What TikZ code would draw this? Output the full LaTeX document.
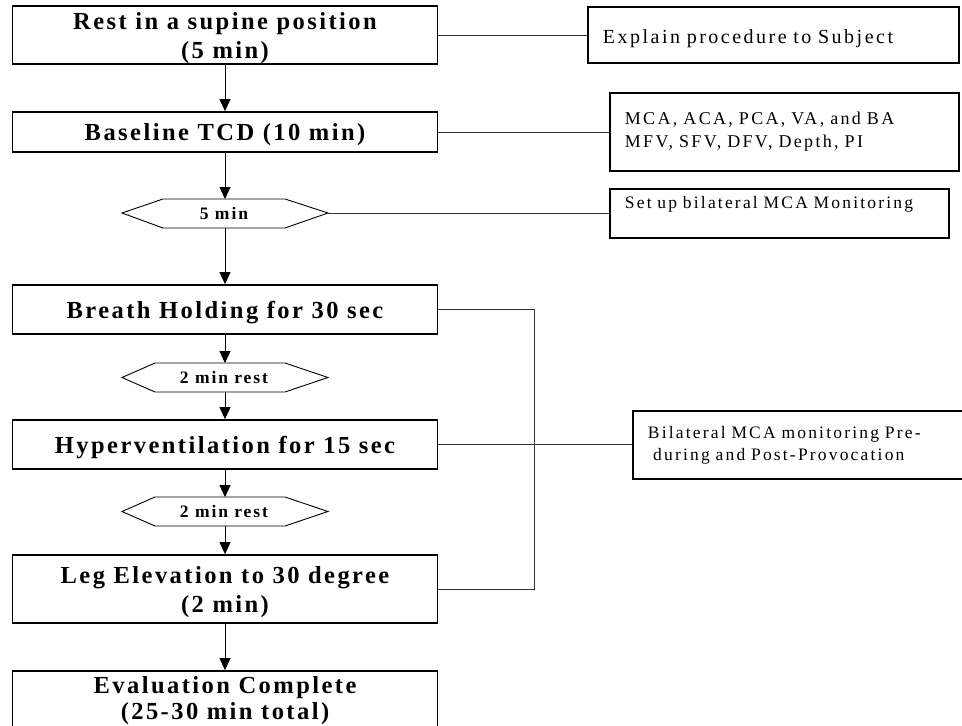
\documentclass[tikz,border=0pt]{standalone}
\usepackage{fontspec}
\setmainfont{Liberation Serif}
\newfontfamily\bxfont[LetterSpace=10]{Liberation Serif}
\newfontfamily\hxfont[LetterSpace=11]{Liberation Serif}
\newfontfamily\ntfont[LetterSpace=12.5]{Liberation Serif}
\newfontfamily\ntfontb[LetterSpace=13]{Liberation Serif}
\newfontfamily\ntfontc[LetterSpace=12.5]{Liberation Serif}
\usetikzlibrary{arrows.meta}
\tikzset{
  stepbox/.style={draw=black, line width=1.8pt, minimum width=425pt, inner sep=0pt,
    align=center, text depth=0pt, font=\bxfont\bfseries\fontsize{24.5}{29}\selectfont},
  notebox/.style={draw=black, line width=1.8pt, inner xsep=15pt, inner ysep=0pt,
    align=left, anchor=west},
  hexlabel/.style={inner sep=0pt, text depth=0pt, font=\hxfont\bfseries\fontsize{17.5}{20}\selectfont},
  hexline/.style={draw=black, line width=0.9pt},
  flow/.style={line width=1pt, -{Triangle[length=12pt,width=11pt]}},
  link/.style={draw=black!80, line width=1pt},
}
\begin{document}
\begin{tikzpicture}[x=1pt,y=-1pt]
\useasboundingbox (0,0) rectangle (962,726);
\clip (0,0) rectangle (962,726);

% left column
\node[stepbox, minimum height=58pt] (b1) at (225,35) {Rest in a supine position\\(5 min)};
\node[stepbox, minimum height=40pt] (b2) at (225,132) {Baseline TCD (10 min)};
\node[stepbox, minimum height=49pt] (b3) at (225,309.5) {Breath Holding for 30 sec};
\node[stepbox, minimum height=49pt] (b4) at (225,444.5) {Hyperventilation for 15 sec};
\node[stepbox, minimum height=68pt] (b5) at (225,589) {Leg Elevation to 30 degree\\(2 min)};
\node[stepbox, minimum height=68pt, text depth=14pt, font=\bxfont\bfseries\fontsize{24.5}{26}\selectfont] (b6) at (225,705) {Evaluation Complete\\(25-30 min total)};

% hexagons
\draw[hexline] (122,213) -- (163,199) -- (285,199) -- (328,213) -- (285,228) -- (163,228) -- cycle;
\node[hexlabel] (h1) at (224,213) {5 min};
\coordinate (h1n) at (225,199);
\coordinate (h1s) at (225,228);
\coordinate (h1e) at (328,213);

\draw[hexline] (122,377.5) -- (155,363) -- (285,363) -- (328,377.5) -- (285,392) -- (155,392) -- cycle;
\node[hexlabel] (h2) at (224,377.5) {2 min rest};
\coordinate (h2n) at (225,363);
\coordinate (h2s) at (225,392);

\draw[hexline] (122,511.5) -- (155,497) -- (285,497) -- (328,511.5) -- (285,526) -- (155,526) -- cycle;
\node[hexlabel] (h3) at (224,511.5) {2 min rest};
\coordinate (h3n) at (225,497);
\coordinate (h3s) at (225,526);

% right column notes
\node[notebox, text width=341pt, minimum height=56pt, text height=20pt, text depth=4pt,
  font=\ntfont\fontsize{20}{23}\selectfont] (r1) at (587,35) {Explain procedure to Subject};
\node[notebox, text width=319pt, minimum height=78pt,
  font=\ntfontb\fontsize{18}{23}\selectfont] (r2) at (609,132) {MCA, ACA, PCA, VA, and BA\\MFV, SFV, DFV, Depth, PI};
\node[notebox, text width=309pt, minimum height=49pt,
  font=\ntfontc\fontsize{17.5}{23}\selectfont] (r3) at (609,213.5) {Set up bilateral MCA Monitoring\\~};
\node[notebox, text width=310pt, minimum height=68pt,
  font=\ntfontc\fontsize{17.5}{22}\selectfont] (r4) at (632,445) {Bilateral MCA monitoring Pre-\\\hspace*{0.3em}during and Post-Provocation};

% flow arrows
\draw[flow] (b1.south) -- (b2.north);
\draw[flow] (b2.south) -- (h1n);
\draw[flow] (h1s) -- (b3.north);
\draw[flow] (b3.south) -- (h2n);
\draw[flow] (h2s) -- (b4.north);
\draw[flow] (b4.south) -- (h3n);
\draw[flow] (h3s) -- (b5.north);
\draw[flow] (b5.south) -- (b6.north);

% side links
\coordinate (j2) at (534,589);
\draw[link] (b1.east) -- (r1.west);
\draw[link] (b2.east) -- (r2.west);
\draw[link] (h1e) -- (h1e -| r3.west);
\draw[link] (b3.east) -| (j2) -- (b5.east);
\draw[link] (b4.east) -- (b4.east -| r4.west);
\end{tikzpicture}
\end{document}
